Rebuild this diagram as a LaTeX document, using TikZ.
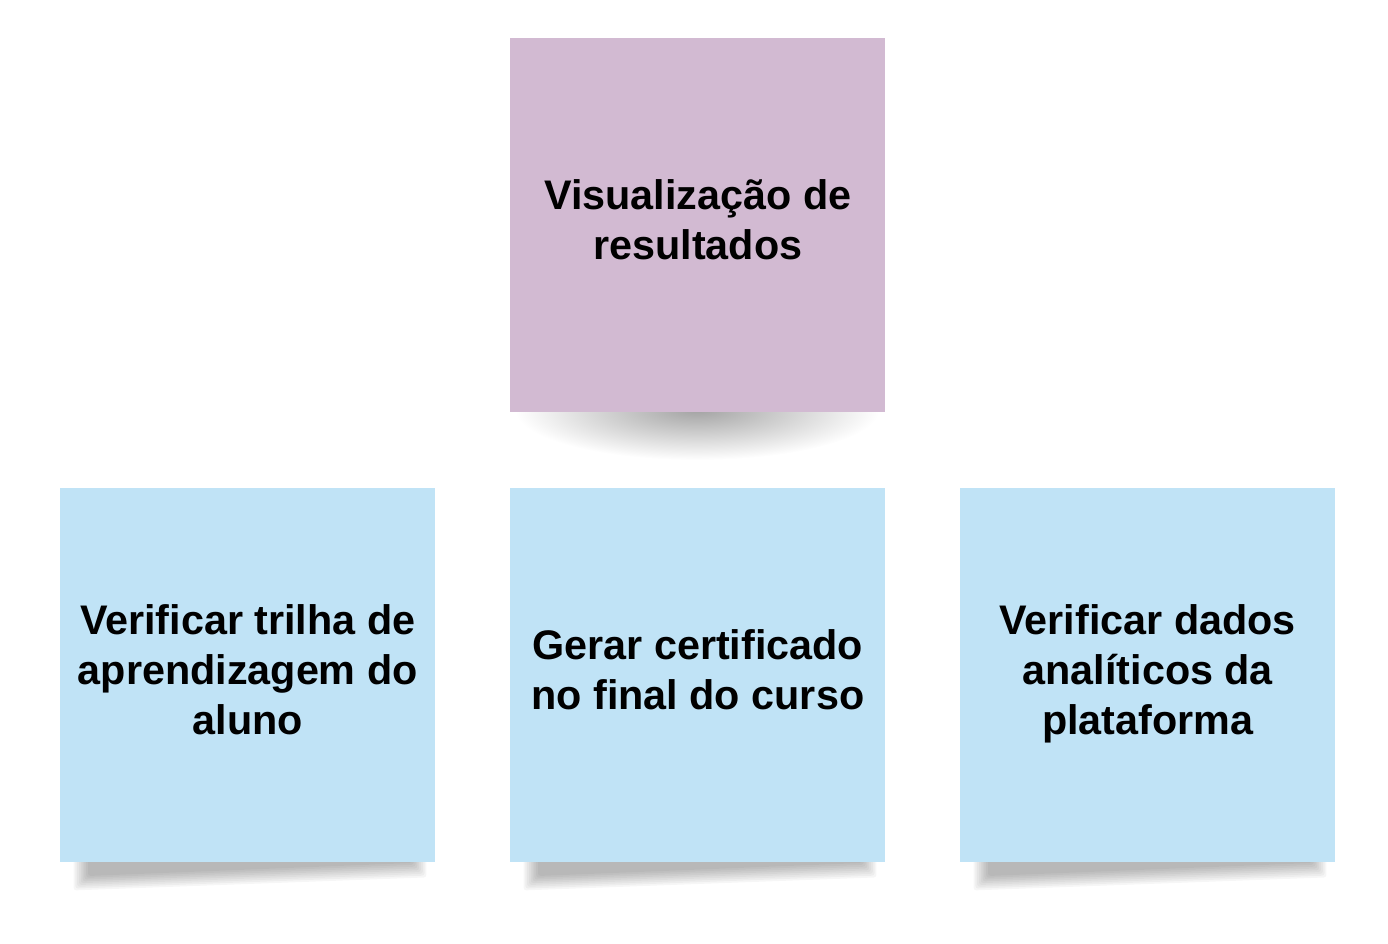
\documentclass[tikz,border=0pt]{standalone}
\usepackage{fontspec}
\setmainfont{Liberation Sans}
\usepackage{xcolor}
\definecolor{notepurple}{RGB}{210,186,210}
\definecolor{noteblue}{RGB}{192,227,246}

\begin{document}
\begin{tikzpicture}[x=0.75pt,y=0.75pt,yscale=-1,xscale=1,
  note/.style={anchor=north west, inner sep=0pt, minimum width=281.25pt, minimum height=280.5pt},
  notetext/.style={inner sep=0pt, align=center, font=\fontsize{31}{37.5}\selectfont\bfseries,
    execute at begin node=\strut, execute at end node=\strut},
  sticky/.style={black, opacity=0.036}
]
\useasboundingbox (0,0) rectangle (1388,943);

%Shadow under the top note
\begin{scope}
  \clip (500,412) rectangle (900,480);
  \shade[inner color=black!36, outer color=white] (697,410) ellipse (182 and 50);
\end{scope}
%Shadows under the bottom notes
\foreach \sx in {60,510,960} {
  \foreach \k in {0,...,8} {
    \pgfmathsetmacro{\g}{(8-\k)*1.8}
    \fill[sticky, rounded corners=2] (\sx+28-\g,857-\g) -- (\sx+352+\g,857-\g) -- (\sx+352+\g,863+\g) -- (\sx+28-\g,876+\g) -- cycle;
  }
}

%Shape: Top note
\node[note, fill=notepurple] (resultados) at (510,38) {};
%Shape: Bottom notes
\node[note, fill=noteblue] (trilha) at (60,488) {};
\node[note, fill=noteblue] (certificado) at (510,488) {};
\node[note, fill=noteblue] (analiticos) at (960,488) {};

% Text Node
\path (resultados.center) ++(0,2) node[notetext] (resultadostxt) {Visualização de\\resultados};
% Text Node
\path (trilha.center) ++(0,2) node[notetext] (trilhatxt) {Verificar trilha de\\aprendizagem do\\aluno};
% Text Node
\path (certificado.center) ++(0,2) node[notetext] (certificadotxt) {Gerar certificado\\no final do curso};
% Text Node
\path (analiticos.center) ++(0,2) node[notetext] (analiticostxt) {Verificar dados\\analíticos da\\plataforma};

\end{tikzpicture}
\end{document}
